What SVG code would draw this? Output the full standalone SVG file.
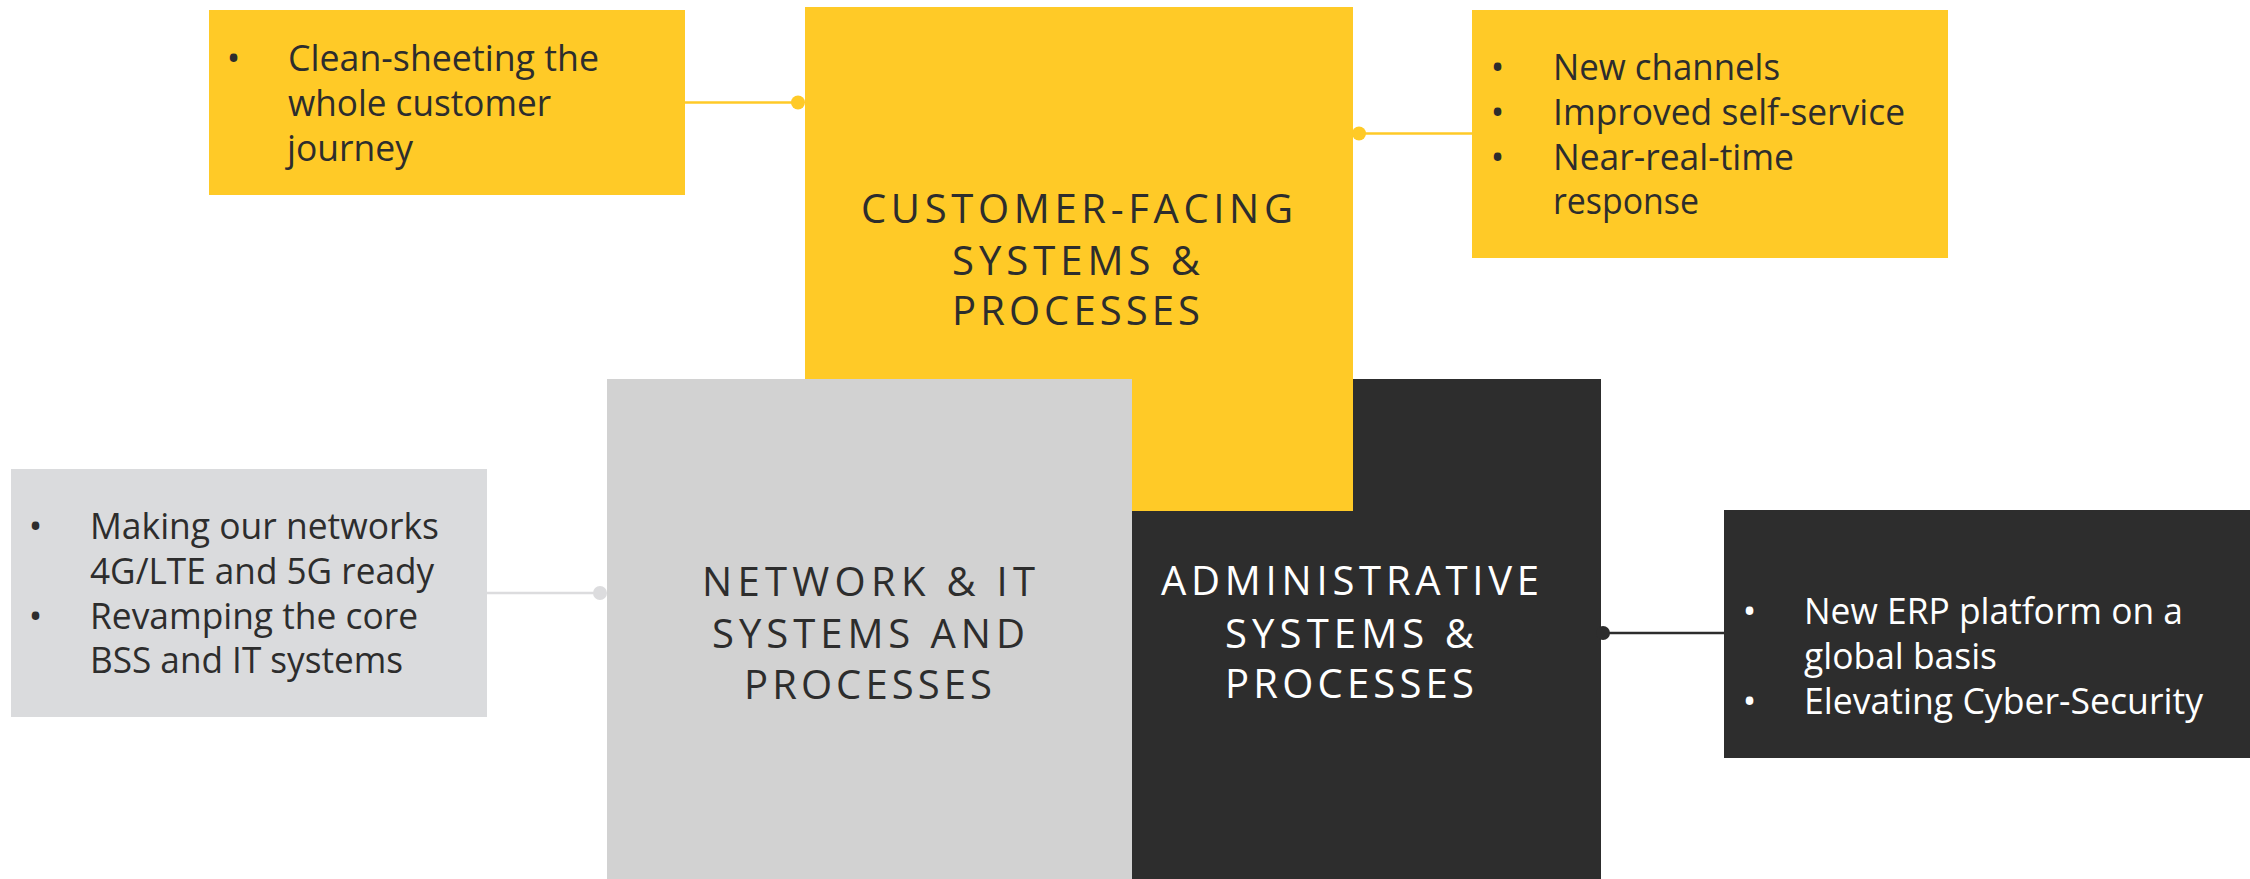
<svg xmlns="http://www.w3.org/2000/svg" width="2250" height="879" viewBox="0 0 2250 879">
<style>
.y{fill:#FFCA27}
.g{fill:#D2D2D2}
.gl{fill:#DADBDD}
.d{fill:#2D2D2D}
.title{font-family:"Open Sans","Noto Sans",sans-serif;font-size:40px;fill:#2D2D2D}
.title.w{fill:#FFFFFF}
.b{font-family:"Open Sans","Noto Sans",sans-serif;font-size:36px;fill:#2D2D2D}
.b.w{fill:#FFFFFF}
.bu{text-anchor:middle}
</style>
<rect width="2250" height="879" fill="#FFFFFF"/>
<g id="admin-node">
<rect class="d" x="1132" y="379" width="469" height="500"/>
</g>
<g id="customer-node">
<rect class="y" x="805" y="7" width="548" height="504"/>
<text class="title" x="861" y="223" textLength="432" lengthAdjust="spacing">CUSTOMER-FACING</text>
<text class="title" x="952" y="275" textLength="248" lengthAdjust="spacing">SYSTEMS &amp;</text>
<text class="title" x="952" y="325" textLength="248" lengthAdjust="spacing">PROCESSES</text>
</g>
<g id="network-node">
<rect class="g" x="607" y="379" width="525" height="500"/>
<text class="title" x="702" y="596" textLength="333" lengthAdjust="spacing">NETWORK &amp; IT</text>
<text class="title" x="712" y="648" textLength="313" lengthAdjust="spacing">SYSTEMS AND</text>
<text class="title" x="744" y="699" textLength="248" lengthAdjust="spacing">PROCESSES</text>
</g>
<g id="admin-node-text">
<text class="title w" x="1161" y="595" textLength="378" lengthAdjust="spacing">ADMINISTRATIVE</text>
<text class="title w" x="1225" y="648" textLength="249" lengthAdjust="spacing">SYSTEMS &amp;</text>
<text class="title w" x="1225" y="698" textLength="249" lengthAdjust="spacing">PROCESSES</text>
</g>
<g id="customer-journey-note">
<rect class="y" x="209" y="10" width="476" height="185"/>
<text class="b bu" x="233.5" y="71">•</text>
<text class="b" x="288" y="71" textLength="311" lengthAdjust="spacingAndGlyphs">Clean-sheeting the</text>
<text class="b" x="288" y="116" textLength="263" lengthAdjust="spacingAndGlyphs">whole customer</text>
<text class="b" x="287" y="161" textLength="126" lengthAdjust="spacingAndGlyphs">journey</text>
</g>
<g id="channels-note">
<rect class="y" x="1472" y="10" width="476" height="248"/>
<text class="b bu" x="1497.5" y="80">•</text>
<text class="b bu" x="1497.5" y="125">•</text>
<text class="b bu" x="1497.5" y="170">•</text>
<text class="b" x="1553" y="80" textLength="227" lengthAdjust="spacingAndGlyphs">New channels</text>
<text class="b" x="1553" y="125" textLength="352" lengthAdjust="spacingAndGlyphs">Improved self-service</text>
<text class="b" x="1553" y="170" textLength="241" lengthAdjust="spacingAndGlyphs">Near-real-time</text>
<text class="b" x="1553" y="214" textLength="146" lengthAdjust="spacingAndGlyphs">response</text>
</g>
<g id="networks-note">
<rect class="gl" x="11" y="469" width="476" height="248"/>
<text class="b bu" x="35.5" y="539">•</text>
<text class="b bu" x="35.5" y="629">•</text>
<text class="b" x="90" y="539" textLength="349" lengthAdjust="spacingAndGlyphs">Making our networks</text>
<text class="b" x="90" y="584" textLength="344" lengthAdjust="spacingAndGlyphs">4G/LTE and 5G ready</text>
<text class="b" x="90" y="629" textLength="328" lengthAdjust="spacingAndGlyphs">Revamping the core</text>
<text class="b" x="90" y="673" textLength="313" lengthAdjust="spacingAndGlyphs">BSS and IT systems</text>
</g>
<g id="erp-note">
<rect class="d" x="1724" y="510" width="526" height="248"/>
<text class="b w bu" x="1749.5" y="624">•</text>
<text class="b w bu" x="1749.5" y="714">•</text>
<text class="b w" x="1804" y="624" textLength="379" lengthAdjust="spacingAndGlyphs">New ERP platform on a</text>
<text class="b w" x="1804" y="669" textLength="193" lengthAdjust="spacingAndGlyphs">global basis</text>
<text class="b w" x="1804" y="714" textLength="399" lengthAdjust="spacingAndGlyphs">Elevating Cyber-Security</text>
</g>
<g id="connectors" stroke-width="2.5">
<line x1="685" y1="102.5" x2="798" y2="102.5" stroke="#FFCA27"/>
<circle cx="798" cy="102.5" r="7" fill="#FFCA27" stroke="none"/>
<line x1="1359" y1="133.5" x2="1472" y2="133.5" stroke="#FFCA27"/>
<circle cx="1359" cy="133.5" r="7" fill="#FFCA27" stroke="none"/>
<line x1="487" y1="593" x2="600" y2="593" stroke="#DCDCDE"/>
<circle cx="600" cy="593" r="7" fill="#DCDCDE" stroke="none"/>
<line x1="1603" y1="633" x2="1724" y2="633" stroke="#2D2D2D"/>
<circle cx="1603" cy="633" r="7" fill="#2D2D2D" stroke="none"/>
</g>
</svg>
